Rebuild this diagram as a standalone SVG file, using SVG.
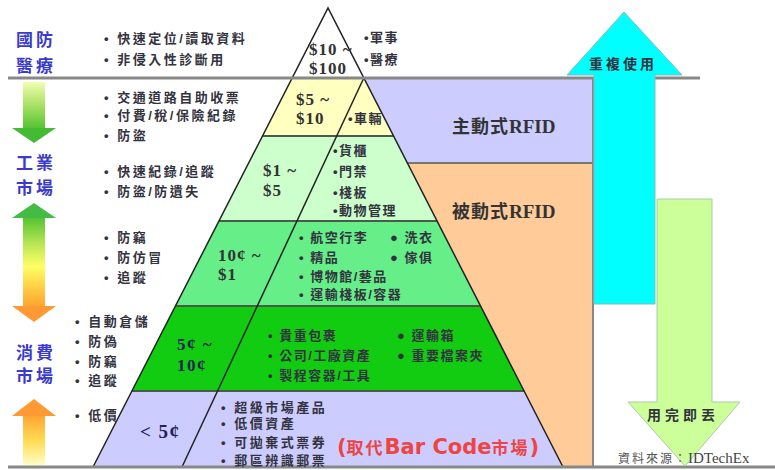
<svg xmlns="http://www.w3.org/2000/svg" width="775" height="470" viewBox="0 0 775 470">
<defs>
<style>
.t{font-family:"Liberation Sans","Noto Sans CJK TC",sans-serif;font-size:13px;font-weight:bold;fill:#333340;letter-spacing:2.5px}
.p{font-family:"Liberation Sans","Noto Sans CJK TC",sans-serif;font-size:13px;font-weight:bold;fill:#333340;letter-spacing:1.5px}
.blue{font-family:"Noto Sans CJK TC",sans-serif;font-size:17px;font-weight:bold;fill:#3a3acc;letter-spacing:3px}
.price{font-family:"Liberation Serif",serif;font-weight:bold;font-size:17px;fill:#333;letter-spacing:1px}
.price2{font-family:"Liberation Serif",serif;font-weight:bold;font-size:17px;fill:#222255;letter-spacing:1.5px}
.rfid{font-family:"Noto Sans CJK TC",sans-serif;font-size:18px;font-weight:bold;fill:#333;letter-spacing:1px}
.rf{font-family:"Liberation Serif",serif;font-weight:bold;font-size:19px;letter-spacing:0}
.arr{font-family:"Noto Sans CJK TC",sans-serif;font-size:14px;font-weight:bold;fill:#333340;letter-spacing:3px}
.sep{stroke:#4a5a4a;stroke-width:2}
.edge{stroke:#222;stroke-width:1.5;fill:none}
</style>
<linearGradient id="g1" gradientUnits="userSpaceOnUse" x1="0" y1="82" x2="0" y2="128">
<stop offset="0" stop-color="#f0ffb0"/><stop offset="0.5" stop-color="#aae066"/><stop offset="1" stop-color="#55c433"/>
</linearGradient>
<linearGradient id="g2" gradientUnits="userSpaceOnUse" x1="0" y1="218" x2="0" y2="306">
<stop offset="0" stop-color="#55c433"/><stop offset="0.3" stop-color="#bbe655"/><stop offset="0.55" stop-color="#ffff66"/><stop offset="0.8" stop-color="#ffcc44"/><stop offset="1" stop-color="#ffa533"/>
</linearGradient>
<linearGradient id="g3" gradientUnits="userSpaceOnUse" x1="0" y1="416" x2="0" y2="466">
<stop offset="0" stop-color="#ffa533"/><stop offset="0.5" stop-color="#ffdd55"/><stop offset="1" stop-color="#ffffcc"/>
</linearGradient>
</defs>
<rect width="775" height="470" fill="#fff"/>

<g id="right-regions">
<polygon points="363.8,78 593,78 593,163 407.4,163" fill="#ccccff"/>
<polygon points="407.4,163 593,163 593,467 563,467" fill="#ffcc99"/>
<line x1="407" y1="163" x2="593" y2="163" stroke="#777" stroke-width="2"/>
<line x1="593" y1="78" x2="593" y2="467" stroke="#888" stroke-width="2"/>
</g>

<g id="pyramid">
<polygon id="tier1" points="328,8 363.8,78 292.2,78" fill="#fff"/>
<polygon id="tier2" points="292.2,78 363.8,78 393.5,136 262.5,136" fill="#ffffc0"/>
<polygon id="tier3" points="262.5,136 393.5,136 437.1,221 218.9,221" fill="#ccffcc"/>
<polygon id="tier4" points="218.9,221 437.1,221 480.6,306 175.4,306" fill="#66ee88"/>
<polygon id="tier5" points="175.4,306 480.6,306 524.1,391 131.9,391" fill="#11cc11"/>
<polygon id="tier6" points="131.9,391 524.1,391 563,467 93,467" fill="#ccccff"/>
<line class="sep" x1="262.5" y1="136" x2="393.5" y2="136"/>
<line class="sep" x1="218.9" y1="221" x2="437.1" y2="221"/>
<line class="sep" x1="175.4" y1="306" x2="480.6" y2="306" stroke="#116611"/>
<line class="sep" x1="131.9" y1="391" x2="524.1" y2="391"/>
<polyline class="edge" points="93,467 328,8 563,467"/>
<line class="edge" x1="363.8" y1="78" x2="182" y2="467"/>
</g>

<g id="rules">
<line x1="8" y1="78" x2="700" y2="78" stroke="#888" stroke-width="3"/>
<line x1="8" y1="467" x2="775" y2="467" stroke="#888" stroke-width="3"/>
</g>

<g id="arrows">
<g id="arrow-reuse">
<polygon points="624,12 682,75 655,75 655,304 594,304 594,75 567,75" fill="#00ffff" stroke="#88bbbb" stroke-width="1"/>
<text class="arr" x="589" y="69">重複使用</text>
</g>
<g id="arrow-dispose">
<polygon points="657,199 712,199 712,402 740,402 685,466 628,402 657,402" fill="#ccff99" stroke="#aaccaa" stroke-width="1"/>
<text class="arr" x="647" y="420" style="letter-spacing:4px">用完即丟</text>
</g>
<g id="arrow-left-1">
<rect x="23" y="82" width="22" height="46" fill="url(#g1)"/>
<polygon points="12,128 56,128 34,143" fill="#44bb33"/>
</g>
<g id="arrow-left-2">
<polygon points="34,203 12,218 56,218" fill="#44bb44"/>
<rect x="23" y="218" width="22" height="88" fill="url(#g2)"/>
<polygon points="12,306 56,306 34,322" fill="#ff9933"/>
</g>
<g id="arrow-left-3">
<polygon points="34,399 12,416 56,416" fill="#ff9933"/>
<rect x="23" y="416" width="22" height="49" fill="url(#g3)"/>
</g>
</g>

<g id="markets">
<text class="blue" x="16" y="46">國防</text>
<text class="blue" x="16" y="72">醫療</text>
<text class="blue" x="16" y="169">工業</text>
<text class="blue" x="16" y="194">市場</text>
<text class="blue" x="16" y="359">消費</text>
<text class="blue" x="16" y="382">市場</text>
</g>

<g id="applications-left">
<text class="t" x="104" y="43">• 快速定位/讀取資料</text>
<text class="t" x="104" y="64">• 非侵入性診斷用</text>
<text class="t" x="104" y="102">• 交通道路自助收票</text>
<text class="t" x="104" y="120">• 付費/稅/保險紀錄</text>
<text class="t" x="104" y="140">• 防盜</text>
<text class="t" x="104" y="176">• 快速紀錄/追蹤</text>
<text class="t" x="104" y="196">• 防盜/防遺失</text>
<text class="t" x="104" y="242">• 防竊</text>
<text class="t" x="104" y="262">• 防仿冒</text>
<text class="t" x="104" y="282">• 追蹤</text>
<text class="t" x="75" y="326">• 自動倉儲</text>
<text class="t" x="75" y="346">• 防偽</text>
<text class="t" x="75" y="366">• 防竊</text>
<text class="t" x="75" y="385">• 追蹤</text>
<text class="t" x="75" y="420">• 低價</text>
</g>

<g id="prices">
<text class="price" x="309" y="55">$10 ~</text>
<text class="price" x="309" y="74">$100</text>
<text class="price" x="296" y="105">$5 ~</text>
<text class="price" x="296" y="124">$10</text>
<text class="price" x="263" y="176">$1 ~</text>
<text class="price" x="263" y="196">$5</text>
<text class="price" x="218" y="261">10¢ ~</text>
<text class="price" x="218" y="280">$1</text>
<text class="price2" x="177" y="350">5¢ ~</text>
<text class="price2" x="177" y="371">10¢</text>
<text class="price2" x="140" y="438" style="font-size:19px">&lt; 5¢</text>
</g>

<g id="applications-pyramid">
<text class="p" x="364" y="42">•軍事</text>
<text class="p" x="364" y="64">•醫療</text>
<text class="p" x="348" y="123">•車輛</text>
<text class="p" x="333" y="155">•貨櫃</text>
<text class="p" x="333" y="176">•門禁</text>
<text class="p" x="333" y="197">•棧板</text>
<text class="p" x="333" y="215">•動物管理</text>
<text class="p" x="299" y="242">• 航空行李</text>
<text class="p" x="390" y="242">● 洗衣</text>
<text class="p" x="299" y="262">• 精品</text>
<text class="p" x="390" y="262">● 傢俱</text>
<text class="p" x="299" y="281">• 博物館/藝品</text>
<text class="p" x="299" y="299">• 運輸棧板/容器</text>
<text class="p" x="268" y="340">• 貴重包裹</text>
<text class="p" x="397" y="340">● 運輸箱</text>
<text class="p" x="268" y="360">• 公司/工廠資產</text>
<text class="p" x="397" y="360">● 重要檔案夾</text>
<text class="p" x="268" y="380">• 製程容器/工具</text>
<text class="t" x="221" y="412">• 超級市場產品</text>
<text class="t" x="221" y="428">• 低價資產</text>
<text class="t" x="221" y="447">• 可拋棄式票券</text>
<text class="t" x="221" y="465">• 郵區辨識郵票</text>
<text x="337" y="454" fill="#ee4444" font-weight="bold" font-family="DejaVu Sans,Noto Sans CJK TC,sans-serif" font-size="21"><tspan>(</tspan><tspan font-family="Noto Sans CJK TC,sans-serif" font-size="17" letter-spacing="2">取代</tspan><tspan>Bar Code</tspan><tspan font-family="Noto Sans CJK TC,sans-serif" font-size="17" letter-spacing="2">市場</tspan><tspan>)</tspan></text>
</g>

<g id="rfid-labels">
<text class="rfid" x="452" y="133">主動式<tspan class="rf">RFID</tspan></text>
<text class="rfid" x="452" y="218">被動式<tspan class="rf">RFID</tspan></text>
</g>

<g id="source">
<text x="618" y="463" font-family="Noto Sans CJK TC,sans-serif" font-size="12" fill="#555" letter-spacing="2">資料來源：<tspan font-family="Liberation Serif,serif" font-size="15" letter-spacing="0" fill="#444">IDTechEx</tspan></text>
</g>
</svg>
